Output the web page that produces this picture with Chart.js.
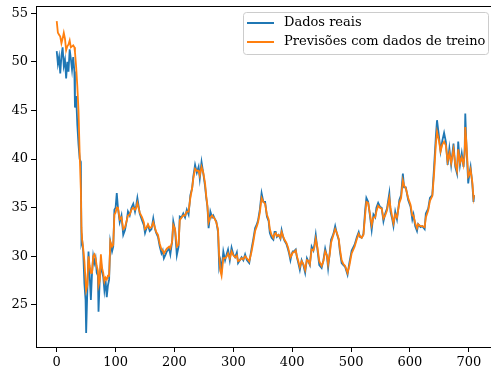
<!DOCTYPE html>
<html>
<head>
<meta charset="utf-8">
<script src="https://cdn.jsdelivr.net/npm/chart.js@4/dist/chart.umd.min.js"></script>
<style>
  html, body { margin: 0; padding: 0; background: #fff; overflow: hidden; }
</style>
</head>
<body>
<canvas id="grafico" width="491" height="374"></canvas>
<script>
// ===============================
// DADOS
// ===============================
const eixoX = [
  0, 2, 4, 6, 8, 10, 12, 14, 16, 18,
  20, 22, 24, 26, 28, 30, 31, 33, 35, 37,
  39, 41, 42, 43, 45, 47, 49, 50, 52, 54,
  56, 58, 60, 62, 64, 66, 68, 70, 71, 73,
  75, 77, 79, 81, 83, 85, 87, 89, 91, 94,
  96, 98, 100, 102, 104, 107, 110, 113, 116, 119,
  121, 124, 127, 130, 133, 135, 137, 139, 141, 145,
  148, 150, 153, 155, 158, 161, 164, 167, 169, 172,
  175, 178, 180, 182, 185, 187, 191, 193, 196, 198,
  201, 204, 207, 209, 212, 215, 218, 221, 224, 227,
  230, 232, 235, 238, 241, 243, 246, 249, 252, 254,
  256, 258, 261, 264, 266, 268, 271, 274, 276, 278,
  280, 283, 286, 289, 291, 294, 297, 300, 303, 306,
  308, 311, 314, 317, 320, 323, 327, 331, 334, 337,
  340, 342, 345, 348, 351, 354, 357, 360, 362, 365,
  368, 370, 372, 374, 377, 380, 382, 385, 387, 390,
  393, 395, 397, 399, 401, 403, 406, 408, 410, 413,
  416, 419, 422, 425, 428, 430, 433, 436, 438, 440,
  443, 446, 450, 453, 456, 459, 461, 464, 466, 470,
  473, 476, 479, 481, 484, 487, 490, 494, 497, 501,
  506, 510, 513, 515, 518, 521, 524, 526, 529, 532,
  535, 538, 541, 543, 546, 549, 552, 555, 558, 561,
  565, 567, 570, 572, 575, 578, 582, 585, 588, 590,
  593, 597, 601, 604, 606, 609, 612, 614, 618, 621,
  625, 627, 631, 634, 638, 641, 644, 646, 649, 652,
  655, 658, 661, 664, 667, 670, 674, 677, 680, 682,
  685, 688, 691, 693, 694, 696, 699, 701, 703, 706,
  708, 709
];

const dadosReais = [
  51.1, 49.8, 50.5, 48.8, 50.6, 51.5, 49.6, 50.2, 48.3, 50.0,
  49.0, 51.3, 50.3, 49.2, 50.5, 49.0, 45.3, 46.5, 43.5, 41.5,
  40.0, 39.7, 31.5, 31.8, 30.5, 27.2, 25.5, 22.1, 26.5, 30.5,
  28.0, 25.5, 28.3, 30.0, 29.3, 29.8, 28.3, 28.0, 24.3, 27.5,
  29.5, 28.4, 27.9, 26.5, 27.5, 25.8, 27.0, 27.6, 31.5, 30.5,
  31.0, 34.8, 35.0, 36.5, 35.0, 33.5, 34.2, 32.2, 32.7, 33.7,
  34.6, 34.2, 35.0, 35.4, 34.6, 35.2, 36.0, 35.2, 34.4, 33.7,
  33.2, 32.4, 33.0, 33.2, 32.6, 32.8, 33.9, 32.8, 32.4, 32.0,
  31.0, 30.3, 30.6, 29.8, 30.2, 30.5, 30.8, 30.2, 31.5, 33.6,
  32.7, 30.1, 31.0, 34.1, 34.0, 34.4, 34.0, 34.8, 34.3, 36.3,
  37.0, 38.2, 39.4, 38.6, 39.2, 38.0, 39.7, 38.5, 37.2, 36.0,
  35.1, 32.9, 34.6, 34.0, 34.2, 33.9, 33.6, 32.5, 28.9, 29.5,
  28.5, 30.5, 29.6, 30.3, 30.7, 29.6, 30.9, 30.2, 29.9, 30.4,
  29.3, 29.6, 29.9, 29.6, 30.2, 29.6, 29.3, 30.8, 31.8, 32.9,
  33.3, 33.7, 34.8, 36.5, 35.6, 35.6, 34.1, 33.6, 32.4, 31.9,
  31.7, 32.5, 32.5, 32.0, 32.2, 31.8, 32.7, 31.9, 31.6, 31.3,
  30.7, 30.2, 29.6, 30.2, 30.5, 30.5, 30.7, 29.9, 29.4, 28.6,
  29.6, 29.1, 28.3, 29.8, 29.4, 29.1, 31.0, 30.6, 31.3, 32.2,
  30.6, 29.1, 28.8, 29.6, 30.8, 30.0, 28.8, 30.5, 31.7, 32.3,
  33.1, 32.3, 31.7, 30.5, 29.3, 29.1, 28.9, 28.1, 29.3, 30.6,
  31.2, 32.0, 32.5, 32.0, 31.9, 32.3, 34.8, 36.0, 35.6, 34.2,
  32.7, 34.3, 34.0, 35.0, 35.5, 35.1, 35.0, 33.6, 34.4, 34.9,
  36.5, 34.6, 33.8, 33.1, 34.6, 33.8, 35.8, 36.3, 38.5, 37.1,
  37.1, 35.8, 35.1, 33.8, 34.3, 33.1, 32.6, 33.3, 33.0, 33.1,
  32.8, 34.4, 34.9, 36.0, 36.3, 39.2, 42.3, 44.0, 42.5, 40.8,
  41.9, 42.7, 41.8, 39.4, 41.1, 39.4, 41.6, 39.2, 38.5, 41.8,
  39.4, 40.6, 39.2, 41.0, 44.7, 41.3, 37.5, 38.5, 39.2, 37.4,
  35.6, 36.3
];

const previsoesTreino = [
  54.2, 53.0, 52.8, 52.6, 51.9, 52.4, 53.0, 52.4, 51.2, 51.6,
  51.8, 52.2, 51.5, 51.6, 51.7, 51.5, 51.0, 49.5, 47.5, 45.0,
  40.5, 36.8, 33.0, 31.8, 30.8, 29.5, 27.5, 26.5, 27.0, 30.0,
  29.0, 28.3, 28.3, 30.0, 30.2, 29.8, 29.0, 28.5, 27.0, 27.5,
  30.2, 28.8, 28.3, 27.4, 27.8, 27.6, 28.0, 28.0, 31.5, 31.0,
  31.2, 34.3, 34.5, 35.0, 35.0, 33.8, 34.0, 32.8, 33.0, 33.7,
  34.2, 34.3, 34.8, 35.0, 34.8, 35.0, 35.5, 35.0, 34.5, 34.0,
  33.5, 32.8, 33.0, 33.3, 32.9, 33.0, 33.5, 32.9, 32.5, 32.2,
  31.3, 30.7, 30.6, 30.3, 30.6, 30.8, 31.0, 30.8, 31.5, 33.2,
  32.8, 31.0, 31.2, 33.7, 34.0, 34.2, 34.2, 34.6, 34.6, 36.0,
  37.0, 38.0, 39.0, 38.8, 38.8, 38.3, 39.2, 38.6, 37.5, 36.2,
  35.2, 33.5, 34.0, 34.2, 34.0, 33.9, 33.5, 32.8, 30.0, 28.5,
  28.0, 29.8, 29.8, 30.0, 30.3, 29.8, 30.5, 30.1, 29.9, 30.1,
  29.5, 29.6, 29.8, 29.7, 30.0, 29.8, 29.5, 30.5, 31.5, 32.6,
  33.1, 33.5, 34.5, 36.0, 35.6, 35.4, 34.3, 33.8, 32.8, 32.2,
  31.9, 32.3, 32.4, 32.1, 32.2, 31.9, 32.5, 32.0, 31.7, 31.4,
  30.9, 30.4, 29.9, 30.1, 30.4, 30.4, 30.6, 30.0, 29.6, 28.9,
  29.5, 29.2, 28.6, 29.6, 29.5, 29.2, 30.7, 30.6, 31.0, 31.8,
  30.9, 29.5, 29.0, 29.5, 30.5, 30.1, 29.2, 30.3, 31.4, 32.2,
  32.8, 32.4, 31.8, 30.8, 29.6, 29.2, 29.0, 28.3, 29.0, 30.3,
  31.0, 31.8, 32.3, 32.1, 31.9, 32.2, 34.3, 35.6, 35.5, 34.4,
  33.2, 34.0, 34.0, 34.6, 35.2, 35.0, 34.9, 33.9, 34.2, 34.7,
  36.0, 35.0, 34.0, 33.4, 34.3, 34.0, 35.5, 36.0, 37.8, 37.3,
  37.0, 36.0, 35.3, 34.2, 34.2, 33.4, 32.9, 33.3, 33.1, 33.1,
  33.0, 34.0, 34.7, 35.7, 36.2, 38.5, 41.5, 42.8, 42.0, 40.8,
  41.5, 41.8, 41.4, 39.8, 40.6, 39.6, 41.0, 39.5, 38.8, 41.0,
  39.6, 40.2, 39.4, 40.5, 43.3, 41.6, 38.2, 38.4, 38.9, 37.6,
  36.0, 36.3
];

const ticksX = [0, 100, 200, 300, 400, 500, 600, 700];
const ticksY = [25, 30, 35, 40, 45, 50, 55];

const fonte = { family: "'DejaVu Serif', serif", size: 13 };

const pontos = serie => eixoX.map((x, i) => ({ x: x, y: serie[i] }));

// ===============================
// MOLDURA + LEGENDA (estilo matplotlib)
// ===============================
const molduraLegenda = {
  id: "molduraLegenda",
  afterDraw(chart) {
    const { ctx, chartArea } = chart;
    ctx.save();

    // linha de cima do quadro
    ctx.strokeStyle = "#000";
    ctx.lineWidth = 1;
    ctx.beginPath();
    ctx.moveTo(chartArea.left, chartArea.top + 0.5);
    ctx.lineTo(chartArea.right, chartArea.top + 0.5);
    ctx.stroke();

    // caixa da legenda
    const larg = 245, alt = 42;
    const x0 = chartArea.right - 248, y0 = chartArea.top + 6;
    ctx.fillStyle = "rgba(255,255,255,0.8)";
    ctx.strokeStyle = "#cccccc";
    ctx.beginPath();
    ctx.roundRect(x0 + 0.5, y0 + 0.5, larg, alt, 3);
    ctx.fill();
    ctx.stroke();

    ctx.font = `${fonte.size}px ${fonte.family}`;
    ctx.textBaseline = "middle";
    chart.data.datasets.forEach((ds, i) => {
      const y = y0 + 11 + i * 19;
      ctx.strokeStyle = ds.borderColor;
      ctx.lineWidth = 2;
      ctx.beginPath();
      ctx.moveTo(x0 + 4, y);
      ctx.lineTo(x0 + 31, y);
      ctx.stroke();
      ctx.fillStyle = "#000";
      ctx.fillText(ds.label, x0 + 41, y);
    });

    ctx.restore();
  }
};

// ===============================
// GRAFICO
// ===============================
const eixoComum = {
  type: "linear",
  grid: { drawOnChartArea: false, drawTicks: true, tickLength: 5, tickColor: "#000", tickWidth: 1 },
  border: { display: true, color: "#000", width: 1 },
  ticks: { color: "#000", font: fonte, padding: 3 }
};

new Chart(document.getElementById("grafico"), {
  type: "line",
  data: {
    datasets: [
      {
        label: "Dados reais",
        data: pontos(dadosReais),
        borderColor: "#1f77b4",
        borderWidth: 1.8,
        pointRadius: 0,
        tension: 0,
        order: 1
      },
      {
        label: "Previsões com dados de treino",
        data: pontos(previsoesTreino),
        borderColor: "#ff7f0e",
        borderWidth: 1.8,
        pointRadius: 0,
        tension: 0,
        order: 0
      }
    ]
  },
  options: {
    responsive: false,
    animation: false,
    devicePixelRatio: 1,
    layout: { padding: { top: 6, right: 0, left: 0, bottom: 0 } },
    plugins: { legend: { display: false }, tooltip: { enabled: false } },
    scales: {
      x: {
        ...eixoComum,
        min: -35.2,
        max: 737.7,
        afterBuildTicks: ax => { ax.ticks = ticksX.map(v => ({ value: v })); },
        afterFit: ax => { ax.height = 27; ax.paddingLeft = 0; ax.paddingRight = 0; }
      },
      y: {
        ...eixoComum,
        min: 20.67,
        max: 55.75,
        afterBuildTicks: ax => { ax.ticks = ticksY.map(v => ({ value: v })); },
        afterFit: ax => { ax.width = 36; ax.paddingTop = 0; ax.paddingBottom = 0; }
      }
    }
  },
  plugins: [molduraLegenda]
});
</script>
</body>
</html>
